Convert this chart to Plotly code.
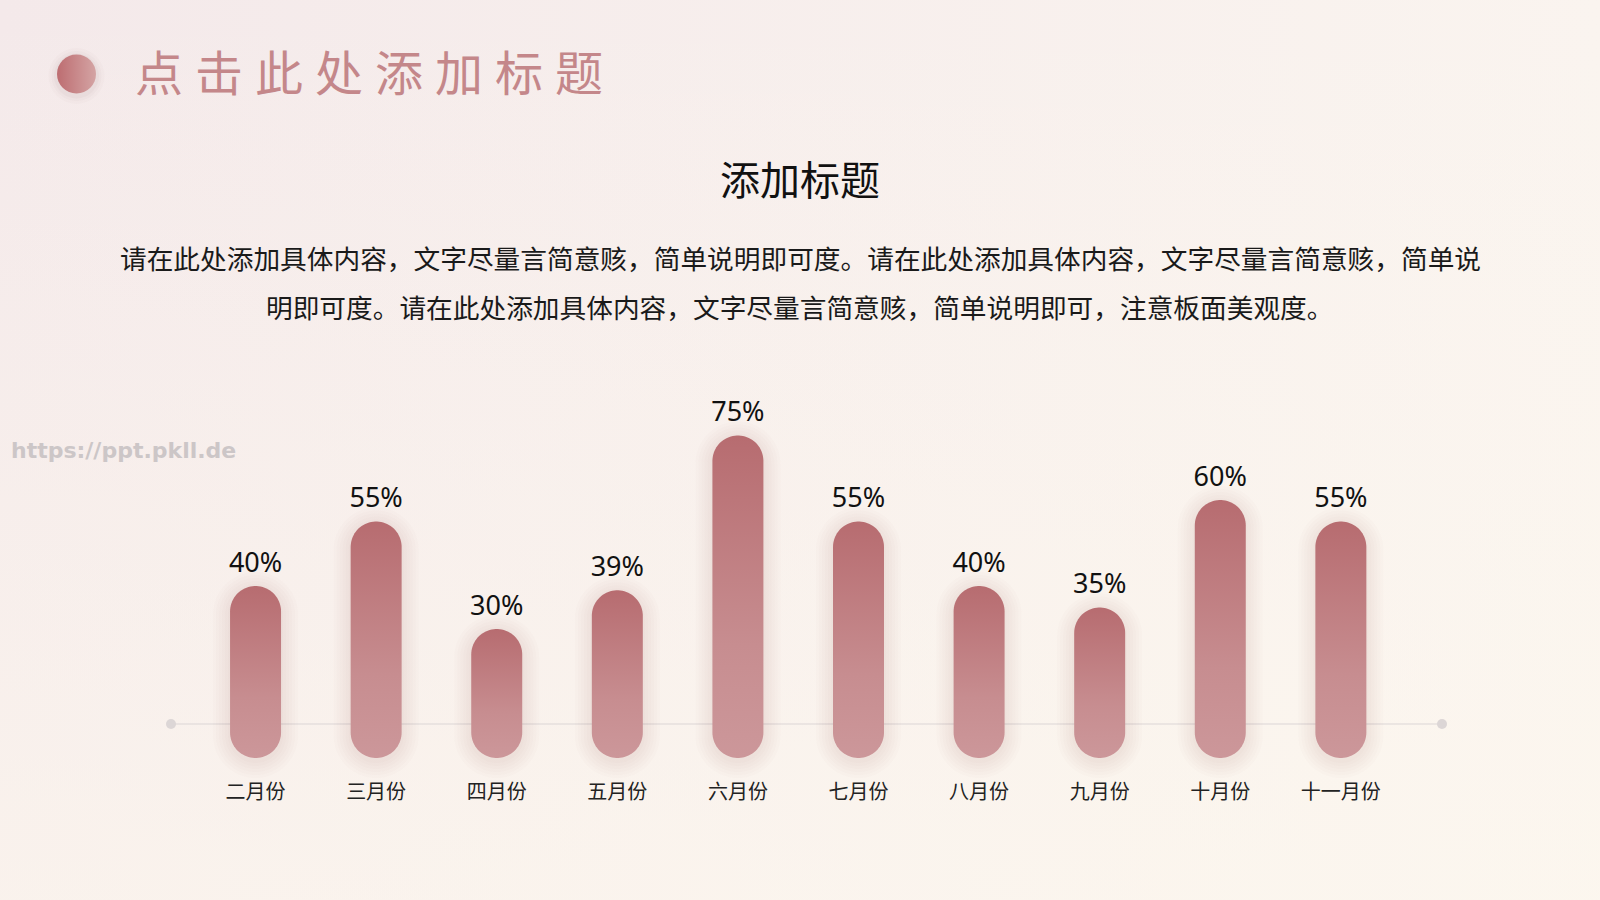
import numpy as np
import plotly.graph_objects as go

# ---------------- data ----------------
months = ["二月份", "三月份", "四月份", "五月份", "六月份",
          "七月份", "八月份", "九月份", "十月份", "十一月份"]
values = [40, 55, 30, 39, 75, 55, 40, 35, 60, 55]
value_labels = [f"{v}%" for v in values]

page_title = "点击此处添加标题"
chart_title = "添加标题"
body_lines = [
    "请在此处添加具体内容，文字尽量言简意赅，简单说明即可度。请在此处添加具体内容，文字尽量言简意赅，简单说",
    "明即可度。请在此处添加具体内容，文字尽量言简意赅，简单说明即可，注意板面美观度。",
]
watermark = "https://ppt.pkll.de"

# ---------------- geometry / style ----------------
W, H = 1600, 900
PX_PER_CAT = 120.59      # horizontal pixels per category step
X0_PX = 255.55           # pixel x of first category
PX_PER_PCT = 4.3         # vertical pixels per percent
BASE_PX = 758            # pixel y of value 0 (bottom of capsules)
BAR_R = 25.5             # capsule radius (px)
LABEL_GAP_PX = 21
MONTH_LABEL_PX = 793.5

CJK = "Noto Sans CJK SC"
BAR_SCALE = [[0, "#cc979a"], [0.35, "#c78d90"], [1, "#b76c70"]]

x2_range = [-X0_PX / PX_PER_CAT, (W - X0_PX) / PX_PER_CAT]
y2_range = [-(H - BASE_PX) / PX_PER_PCT, BASE_PX / PX_PER_PCT]

idx = np.arange(len(values))


def capsule(i, v, grow=0.0, shift_px=0.0):
    r = BAR_R + grow
    rx = r / PX_PER_CAT
    ry = r / PX_PER_PCT
    yb = BAR_R / PX_PER_PCT - shift_px / PX_PER_PCT
    yt = v - BAR_R / PX_PER_PCT - shift_px / PX_PER_PCT
    t1 = np.linspace(0, np.pi, 40)
    t2 = np.linspace(np.pi, 2 * np.pi, 40)
    xs = np.concatenate([i + rx * np.cos(t1), i + rx * np.cos(t2)])
    ys = np.concatenate([yt + ry * np.sin(t1), yb + ry * np.sin(t2)])
    xs = np.append(xs, xs[0])
    ys = np.append(ys, ys[0])
    return list(xs), list(ys)


fig = go.Figure()

# ---- background (pixel axes x/y) ----
fig.add_trace(go.Scatter(
    x=[0, W, W, 0, 0], y=[0, 0, H, H, 0], mode="none", fill="toself",
    fillcolor="#f6eeed",
    fillgradient=dict(type="horizontal", colorscale=[[0, "#f4e9ea"], [1, "#faf4ef"]]),
    hoverinfo="skip", xaxis="x", yaxis="y"))
fig.add_trace(go.Scatter(
    x=[0, W, W, 0, 0], y=[0, 0, H, H, 0], mode="none", fill="toself",
    fillcolor="rgba(253,248,238,0.3)",
    fillgradient=dict(type="vertical", start=0, stop=H,
                      colorscale=[[0, "rgba(253,248,238,0)"], [1, "rgba(253,248,238,0.6)"]]),
    hoverinfo="skip", xaxis="x", yaxis="y"))

# baseline with end dots
fig.add_trace(go.Scatter(
    x=[171, 1442], y=[724, 724], mode="lines+markers",
    line=dict(color="#dcd5d5", width=1.2),
    marker=dict(size=10, color="#dcd6d6"),
    hoverinfo="skip", xaxis="x", yaxis="y"))

# title bullet
for sz, al in [(56, 0.03), (50, 0.04), (45, 0.05)]:
    fig.add_trace(go.Scatter(
        x=[76.5], y=[76], mode="markers",
        marker=dict(size=sz, color=f"rgba(150,125,115,{al})", line=dict(width=0)),
        hoverinfo="skip", xaxis="x", yaxis="y"))
fig.add_trace(go.Scatter(
    x=[76.5], y=[74], mode="markers",
    marker=dict(size=39, color="#bd6d71", line=dict(width=0),
                gradient=dict(type="horizontal", color="#d4a4a4")),
    hoverinfo="skip", xaxis="x", yaxis="y"))

# ---- bar shadows ----
for grow in [2, 5, 8, 11, 14, 17]:
    sx, sy = [], []
    for i, v in zip(idx, values):
        xs, ys = capsule(i, v, grow=grow, shift_px=3)
        sx += xs + [None]
        sy += ys + [None]
    fig.add_trace(go.Scatter(
        x=sx, y=sy, mode="none", fill="toself",
        fillcolor="rgba(140,115,95,0.018)",
        hoverinfo="skip", xaxis="x2", yaxis="y2"))

# ---- capsule bars ----
for i, v in zip(idx, values):
    xs, ys = capsule(i, v)
    fig.add_trace(go.Scatter(
        x=xs, y=ys, mode="none", fill="toself", fillcolor="#c28487",
        fillgradient=dict(type="vertical", colorscale=BAR_SCALE),
        hoverinfo="skip", xaxis="x2", yaxis="y2"))

# value labels
fig.add_trace(go.Scatter(
    x=idx, y=[v + LABEL_GAP_PX / PX_PER_PCT for v in values],
    mode="text", text=value_labels, textposition="middle center",
    textfont=dict(family="Noto Sans", size=27, color="#111111"),
    hoverinfo="skip", xaxis="x2", yaxis="y2"))

# month labels
fig.add_trace(go.Scatter(
    x=idx, y=[-(MONTH_LABEL_PX - BASE_PX) / PX_PER_PCT] * len(months),
    mode="text", text=months, textposition="middle center",
    textfont=dict(family=CJK, size=20, color="#222222"),
    hoverinfo="skip", xaxis="x2", yaxis="y2"))

# ---- text annotations ----
sp = "\u2005"
annotations = [
    dict(text=sp.join(page_title), x=133 / W, y=1 - 70 / H, xanchor="left", yanchor="middle",
         font=dict(family=CJK, size=48, color="#c4878a")),
    dict(text=chart_title, x=0.5, y=1 - 178 / H, xanchor="center", yanchor="middle",
         font=dict(family=CJK, size=40, color="#111111")),
    dict(text=body_lines[0], x=0.5, y=1 - 258 / H, xanchor="center", yanchor="middle",
         font=dict(family=CJK, size=26.7, color="#1a1a1a")),
    dict(text=body_lines[1], x=0.5, y=1 - 306 / H, xanchor="center", yanchor="middle",
         font=dict(family=CJK, size=26.7, color="#1a1a1a")),
    dict(text=watermark, x=9 / W, y=1 - 450 / H, xanchor="left", yanchor="middle",
         font=dict(family="DejaVu Sans", size=22, color="#ccc6c7", weight="bold")),
]
for a in annotations:
    a.update(xref="paper", yref="paper", showarrow=False)

hidden = dict(visible=False, showgrid=False, zeroline=False, fixedrange=True)
fig.update_layout(
    width=W, height=H, autosize=False,
    margin=dict(l=0, r=0, t=0, b=0, pad=0),
    paper_bgcolor="#f6eeed", plot_bgcolor="rgba(0,0,0,0)",
    showlegend=False, hovermode=False,
    xaxis=dict(range=[0, W], domain=[0, 1], **hidden),
    yaxis=dict(range=[H, 0], domain=[0, 1], **hidden),
    xaxis2=dict(range=x2_range, overlaying="x", anchor="y2", **hidden),
    yaxis2=dict(range=y2_range, overlaying="y", anchor="x2", **hidden),
    annotations=annotations,
)

fig.write_html(
    "out.html",
    config={"displayModeBar": False, "staticPlot": True},
    post_script="document.body.style.margin='0';document.body.style.overflow='hidden';",
)
